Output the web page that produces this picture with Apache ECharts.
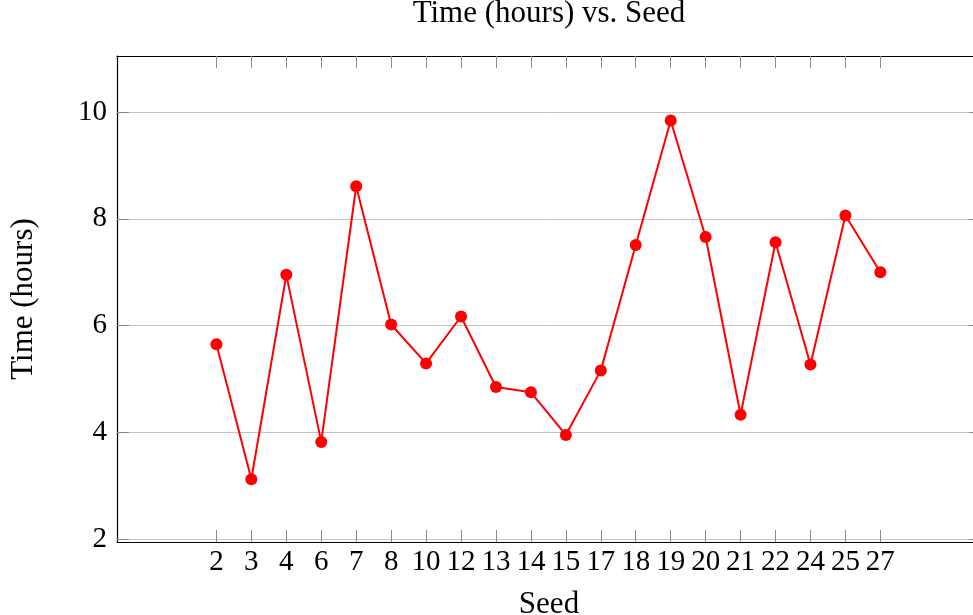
<!DOCTYPE html>
<html><head><meta charset="utf-8">
<script src="https://cdn.jsdelivr.net/npm/echarts@6/dist/echarts.min.js"></script>
<style>html,body{margin:0;padding:0;background:#fff}#c{width:973px;height:615px}</style>
</head><body><div id="c"></div>
<script>
const seeds = ['2','3','4','6','7','8','10','12','13','14','15','17','18','19','20','21','22','24','25','27'];
const hours = [5.65,3.12,6.95,3.82,8.61,6.02,5.29,6.17,4.85,4.75,3.95,5.16,7.51,9.84,7.66,4.33,7.56,5.27,8.06,7.00];
const yTicks = [2,4,6,8,10];
const titleText = 'Time (hours) vs. Seed';
const xName = 'Seed';
const yName = 'Time (hours)';

const idx = seeds.map((s, i) => i);
const FONT = 'Liberation Serif';
const FS = 29;
const FST = 31;
const tickColor = '#8a8a8a';
const gridColor = '#c4c4c4';

const chart = echarts.init(document.getElementById('c'), null, {renderer: 'canvas'});
const xCommon = {
  type: 'value', min: -2.845, max: 21.88,
  splitLine: {show: false},
  axisLine: {show: true, onZero: false, lineStyle: {color: '#000', width: 1.2}},
  axisTick: {show: true, inside: true, length: 12, customValues: idx, lineStyle: {color: tickColor, width: 1}}
};
const yCommon = {
  type: 'value', min: 1.945, max: 11.05,
  axisLine: {show: true, onZero: false, lineStyle: {color: '#000', width: 1.2}},
  axisTick: {show: true, inside: true, length: 12, customValues: yTicks, lineStyle: {color: tickColor, width: 1}}
};
chart.setOption({
  animation: false,
  backgroundColor: '#fff',
  title: {
    text: titleText, left: 549, textAlign: 'center', top: -2, padding: 0,
    textStyle: {fontFamily: FONT, fontSize: FST, fontWeight: 'normal', color: '#000'}
  },
  grid: {left: 117, top: 56, width: 864, height: 486, containLabel: false, outerBoundsMode: 'none'},
  xAxis: [
    Object.assign({}, xCommon, {
      position: 'bottom',
      name: xName, nameLocation: 'middle', nameGap: 47,
      nameTextStyle: {fontFamily: FONT, fontSize: FST, color: '#000', verticalAlign: 'top'},
      axisLabel: {show: true, customValues: idx, margin: 6, fontFamily: FONT, fontSize: FS, color: '#000',
        formatter: v => seeds[Math.round(v)]}
    }),
    Object.assign({}, xCommon, {position: 'top', axisLabel: {show: false}})
  ],
  yAxis: [
    Object.assign({}, yCommon, {
      position: 'left',
      name: yName, nameLocation: 'middle', nameGap: 78, nameRotate: 90,
      nameTextStyle: {fontFamily: FONT, fontSize: FST, color: '#000'},
      splitLine: {show: true, lineStyle: {color: gridColor, width: 1}},
      axisLabel: {show: true, customValues: yTicks, margin: 10, fontFamily: FONT, fontSize: FS, color: '#000'}
    }),
    Object.assign({}, yCommon, {position: 'right', splitLine: {show: false}, axisLabel: {show: false}})
  ],
  series: [{
    type: 'line', xAxisIndex: 0, yAxisIndex: 0,
    data: idx.map(i => [i, hours[i]]),
    symbol: 'circle', symbolSize: 12,
    itemStyle: {color: '#ff0000'},
    lineStyle: {color: '#ff0000', width: 2}
  }]
});
</script>
</body></html>
